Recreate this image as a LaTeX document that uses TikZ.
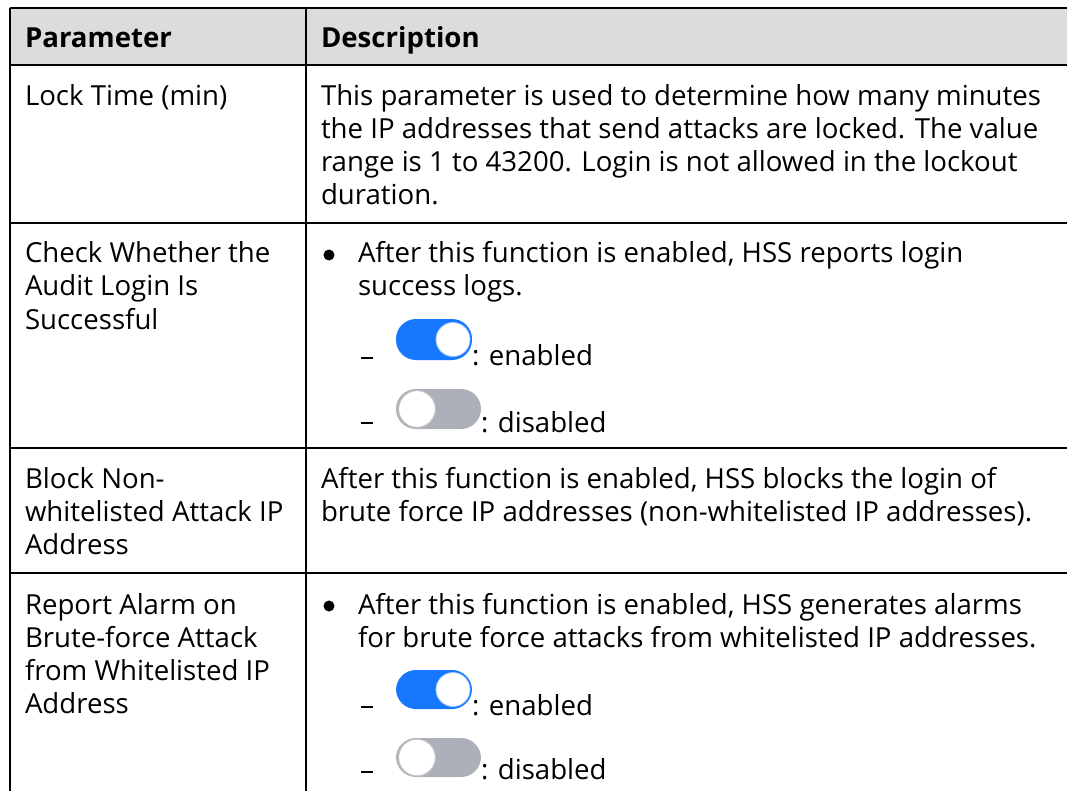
\documentclass[tikz,border=0pt]{standalone}
\usepackage{fontspec}
\setmainfont{Open Sans}
\definecolor{hdr}{RGB}{220,220,220}
\definecolor{onblue}{RGB}{22,119,255}
\definecolor{offgray}{RGB}{173,176,184}
\tikzset{
  txt/.style={anchor=base west, inner sep=0pt, outer sep=0pt, font=\fontsize{27.6}{33}\selectfont},
  hd/.style={txt, font=\fontsize{27.6}{33}\selectfont\bfseries},
  grid/.style={line width=1.3pt, draw=black},
  bul/.style={circle, fill=black, inner sep=0pt, minimum size=11pt},
  dsh/.style={line width=1.4pt, draw=black},
  togon/.style={fill=onblue, rounded corners=20pt},
  togoff/.style={fill=offgray, rounded corners=20pt},
  knobon/.style={circle, fill=white, draw=onblue!40, line width=0.8pt, inner sep=0pt, minimum size=34pt},
  knoboff/.style={circle, fill=white, draw=offgray!80, line width=1.2pt, inner sep=0pt, minimum size=37pt},
}
\begin{document}
\begin{tikzpicture}[x=1pt,y=-1pt]
\useasboundingbox (0,0) rectangle (1067,791);
\fill[white] (0,0) rectangle (1067,791);
% header fill
\fill[hdr] (10,8) rectangle (1075,65);
% grid
\draw[grid] (10,8) -- (1075,8);
\draw[grid] (10,65) -- (1075,65);
\draw[grid] (10,223) -- (1075,223);
\draw[grid] (10,448) -- (1075,448);
\draw[grid] (10,573) -- (1075,573);
\draw[grid] (10,8) -- (10,800);
\draw[grid] (306,8) -- (306,800);

% header
\node[hd] (h1) at (25,48) {Parameter};
\node[hd] (h2) at (321,48) {Description};

% row 1
\node[txt] (p1) at (25,106) {Lock Time (min)};
\node[txt] (d1a) at (321,106) {This parameter is used to determine how many minutes};
\node[txt] (d1b) at (321,139) {the IP addresses that send attacks are locked. The value};
\node[txt] (d1c) at (321,172) {range is 1 to 43200. Login is not allowed in the lockout};
\node[txt] (d1d) at (321,205) {duration.};

% row 2
\node[txt] (p2a) at (25,263) {Check Whether the};
\node[txt] (p2b) at (25,296) {Audit Login Is};
\node[txt] (p2c) at (25,329) {Successful};
\node[bul] (b2) at (329,255) {};
\node[txt] (d2a) at (358,263) {After this function is enabled, HSS reports login};
\node[txt] (d2b) at (358,296) {success logs.};
\draw[dsh] (361,358) coordinate (s2a) -- (373,358) coordinate (e2a);
\fill[togon] (396,319) rectangle (472,360);
\node[knobon] (k2a) at (453,339.5) {};
\node[txt] (t2a) at (472,365) {: enabled};
\draw[dsh] (361,423) coordinate (s2b) -- (373,423) coordinate (e2b);
\fill[togoff] (396,389) rectangle (481,429);
\node[knoboff] (k2b) at (417,409) {};
\node[txt] (t2b) at (481,432) {: disabled};

% row 3
\node[txt] (p3a) at (25,488) {Block Non-};
\node[txt] (p3b) at (25,521) {whitelisted Attack IP};
\node[txt] (p3c) at (25,554) {Address};
\node[txt] (d3a) at (321,488) {After this function is enabled, HSS blocks the login of};
\node[txt] (d3b) at (321,521) {brute force IP addresses (non-whitelisted IP addresses).};

% row 4
\node[txt] (p4a) at (25,614) {Report Alarm on};
\node[txt] (p4b) at (25,647) {Brute-force Attack};
\node[txt] (p4c) at (25,680) {from Whitelisted IP};
\node[txt] (p4d) at (25,713) {Address};
\node[bul] (b4) at (329,606) {};
\node[txt] (d4a) at (358,614) {After this function is enabled, HSS generates alarms};
\node[txt] (d4b) at (358,647) {for brute force attacks from whitelisted IP addresses.};
\draw[dsh] (361,707) coordinate (s4a) -- (373,707) coordinate (e4a);
\fill[togon] (396,670) rectangle (472,709);
\node[knobon] (k4a) at (453,689.5) {};
\node[txt] (t4a) at (472,715) {: enabled};
\draw[dsh] (361,772) coordinate (s4b) -- (373,772) coordinate (e4b);
\fill[togoff] (396,738) rectangle (481,777);
\node[knoboff] (k4b) at (417,757.5) {};
\node[txt] (t4b) at (481,779) {: disabled};
\end{tikzpicture}
\end{document}
